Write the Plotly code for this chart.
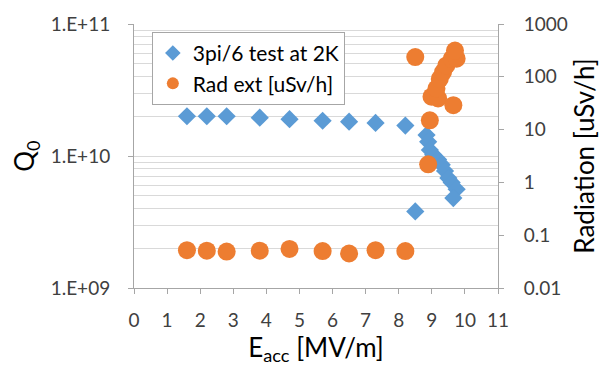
import plotly.graph_objects as go

# Q0 test data (left axis)
q_eacc = [1.6, 2.2, 2.8, 3.8, 4.7, 5.7, 6.5, 7.3, 8.2, 8.5,
          8.84, 8.89, 8.94, 9.04, 9.19, 9.30, 9.40, 9.50, 9.60, 9.75, 9.65]
q0 = [2.0e10, 2.0e10, 2.0e10, 1.95e10, 1.9e10, 1.85e10, 1.82e10, 1.78e10, 1.70e10, 3.8e9,
      1.44e10, 1.28e10, 1.11e10, 1.02e10, 9.4e9, 8.6e9, 7.7e9, 6.8e9, 6.3e9, 5.6e9, 4.8e9]

# Radiation data (right axis)
r_eacc = [1.6, 2.2, 2.8, 3.8, 4.7, 5.7, 6.5, 7.3, 8.2, 8.5,
          8.89, 8.94, 8.99, 9.19, 9.14, 9.24, 9.34, 9.44, 9.60, 9.75, 9.70, 9.65]
rad = [0.052, 0.051, 0.049, 0.051, 0.055, 0.050, 0.045, 0.052, 0.050, 236,
       2.2, 15, 42, 39, 60, 91, 123, 164, 219, 220, 314, 29]

x_ticks = list(range(0, 12))
q_tickvals = [1e9, 1e10, 1e11]
q_ticktext = ["1.E+09", "1.E+10", "1.E+11"]
q_minor = [k * 10 ** d for d in (9, 10) for k in range(2, 10)]
r_tickvals = [0.01, 0.1, 1, 10, 100, 1000]
r_ticktext = ["0.01", "0.1", "1", "10", "100", "1000"]

BLUE = "#5B9BD5"
ORANGE = "#ED7D31"
FONT = "Lato"
AXC = "#A6A6A6"
TICKC = "#404040"

fig = go.Figure()
fig.add_trace(go.Scatter(x=q_eacc, y=q0, mode="markers", name="3pi/6 test at 2K",
                         marker=dict(symbol="diamond", size=14, color=BLUE), yaxis="y"))
fig.add_trace(go.Scatter(x=r_eacc, y=rad, mode="markers", name="Rad ext [uSv/h]",
                         marker=dict(symbol="circle", size=18, color=ORANGE), yaxis="y2"))

fig.update_layout(
    width=613, height=366,
    margin=dict(l=134, r=115, t=21, b=78),
    paper_bgcolor="white", plot_bgcolor="white",
    font=dict(family=FONT, color=TICKC, size=19),
    showlegend=True,
    legend=dict(x=0.049, y=0.97, xanchor="left", yanchor="top",
                bgcolor="white", bordercolor="#A6A6A6", borderwidth=1,
                font=dict(size=21, color="#000000"), itemsizing="constant",
                tracegroupgap=0),
    xaxis=dict(range=[0, 11], tickvals=x_ticks, showgrid=False, zeroline=False,
               showline=True, linecolor=AXC, ticks="outside", tickcolor=AXC, ticklen=5,
               ticklabelstandoff=10,
               tickfont=dict(size=19, color=TICKC),
               title=dict(text="E<sub>acc</sub> [MV/m]", font=dict(size=26, color="#000000"), standoff=4)),
    yaxis=dict(type="log", range=[9, 11], tickvals=q_tickvals, ticktext=q_ticktext,
               showgrid=True, gridcolor="#D9D9D9", zeroline=False,
               showline=True, linecolor=AXC, ticks="outside", tickcolor=AXC, ticklen=5,
               ticklabelstandoff=14,
               minor=dict(tickvals=q_minor, showgrid=True, gridcolor="#D9D9D9", ticks=""),
               tickfont=dict(size=19, color=TICKC),
               title=dict(text="Q<sub>0</sub>", font=dict(size=26, color="#000000"), standoff=8)),
    yaxis2=dict(type="log", range=[-2, 3], tickvals=r_tickvals, ticktext=r_ticktext,
                overlaying="y", side="right", showgrid=False, zeroline=False,
                showline=True, linecolor=AXC, ticks="outside", tickcolor=AXC, ticklen=5,
                ticklabelstandoff=16,
                tickfont=dict(size=19, color=TICKC),
                title=dict(text="Radiation [uSv/h]", font=dict(size=26, color="#000000"), standoff=8)),
)

fig.write_html("out.html")
